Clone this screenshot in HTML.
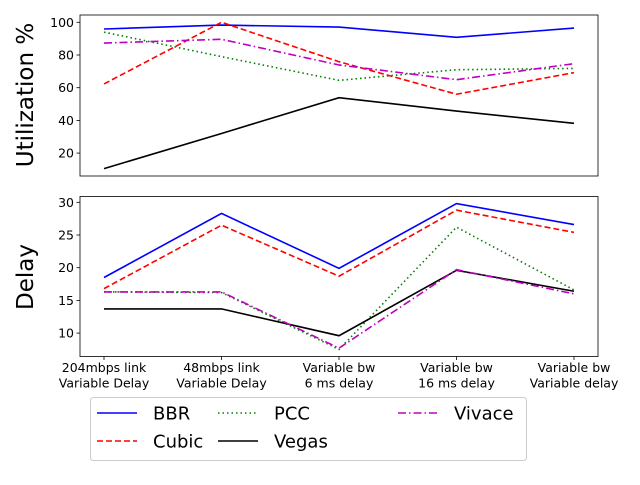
<!DOCTYPE html>
<html><head><meta charset="utf-8"><style>
body{margin:0;background:#fff;}
svg text{font-family:"DejaVu Sans","Liberation Sans",sans-serif;fill:#000;}
</style></head><body>
<svg id="chart" width="640" height="480" xmlns="http://www.w3.org/2000/svg"></svg>
<script>
const categories=[["204mbps link","Variable Delay"],["48mbps link","Variable Delay"],["Variable bw","6 ms delay"],["Variable bw","16 ms delay"],["Variable bw","Variable delay"]];
const seriesNames=["BBR","Cubic","PCC","Vegas","Vivace"];
const utilBBR=[95.9,98.3,97.1,90.8,96.5];
const utilCubic=[62.3,100,75.9,56,69.2];
const utilPCC=[94,79,64.5,71,71.8];
const utilVegas=[10.5,32,53.9,45.7,38.2];
const utilVivace=[87.3,89.6,73.9,64.9,74.7];
const delayBBR=[18.5,28.3,19.9,29.8,26.6];
const delayCubic=[16.8,26.5,18.7,28.8,25.4];
const delayPCC=[16.3,16.2,7.5,26.2,16.6];
const delayVegas=[13.7,13.7,9.6,19.6,16.4];
const delayVivace=[16.3,16.3,7.7,19.7,16.0];
const utilTicks=[20,40,60,80,100];
const delayTicks=[10,15,20,25,30];

const NS="http://www.w3.org/2000/svg";
const svg=document.getElementById('chart');
function mk(t,a,p){const e=document.createElementNS(NS,t);for(const k in a)e.setAttribute(k,a[k]);(p||svg).appendChild(e);return e;}
const styles=[{c:"#0000ff",d:""},{c:"#ff0000",d:"6,3"},{c:"#008000",d:"1.5,3"},{c:"#000000",d:""},{c:"#bf00bf",d:"8,3,1.5,3"}];
const X0=80,X1=598;
function xs(i){return 104+i*(574-104)/(categories.length-1);}
function yUtil(v){return 22.3+(100-v)*1.635;}
function yDelay(v){return 202.3+(30-v)*6.54;}

function panel(name,top,bot,ys,ticks,data,label,labelY){
  const g=mk('g',{});
  
  
  ticks.forEach(t=>{
    const y=ys(t);
    const tk=mk('line',{x1:X0-3.5,x2:X0,y1:y,y2:y,stroke:'#000','stroke-width':0.8},g);
    
    
    const tx=mk('text',{x:X0-6,y:y+4.5,'text-anchor':'end','font-size':'12.5'},g);
    tx.textContent=t;
    
    
  });
  data.forEach((arr,si)=>{
    const pts=arr.map((v,i)=>xs(i)+','+ys(v)).join(' ');
    const pl=mk('polyline',{points:pts,fill:'none',stroke:styles[si].c,'stroke-width':1.6,'stroke-dasharray':styles[si].d},g);
    
    
  });
  const fr=mk('rect',{x:X0,y:top,width:X1-X0,height:bot-top,fill:'none',stroke:'#000','stroke-width':0.8},g);
  
  
  const yl=mk('text',{x:0,y:0,'text-anchor':'middle','font-size':'23',transform:'translate(33,'+labelY+') rotate(-90)'},g);
  yl.textContent=label;
  
  
}
panel('utilization-panel',15,176,yUtil,utilTicks,[utilBBR,utilCubic,utilPCC,utilVegas,utilVivace],'Utilization %',95);
panel('delay-panel',196.5,356.5,yDelay,delayTicks,[delayBBR,delayCubic,delayPCC,delayVegas,delayVivace],'Delay',277);

categories.forEach((c,i)=>{
  const x=xs(i);
  const tk=mk('line',{x1:x,x2:x,y1:356.5,y2:360,stroke:'#000','stroke-width':0.8});
  
  
  const t=mk('text',{x:x,y:372,'text-anchor':'middle','font-size':'12.5'});
  
  
  const a=mk('tspan',{x:x,dy:0},t);a.textContent=c[0];
  const b=mk('tspan',{x:x,dy:15.5},t);b.textContent=c[1];
});

const lg=mk('g',{});


const lr=mk('rect',{x:90.5,y:397.5,width:436,height:63,rx:3,fill:'#fff',stroke:'#ccc','stroke-width':1},lg);


const pos=[[97,413],[97,441],[218,413],[218,441],[398,413]];
seriesNames.forEach((n,i)=>{
  const [x,y]=pos[i];
  const e=mk('g',{},lg);
  
  
  mk('line',{x1:x,x2:x+40,y1:y,y2:y,stroke:styles[i].c,'stroke-width':1.6,'stroke-dasharray':styles[i].d},e);
  const t=mk('text',{x:x+56,y:y+6.5,'font-size':'18'},e);
  t.textContent=n;
});
</script>
</body></html>
